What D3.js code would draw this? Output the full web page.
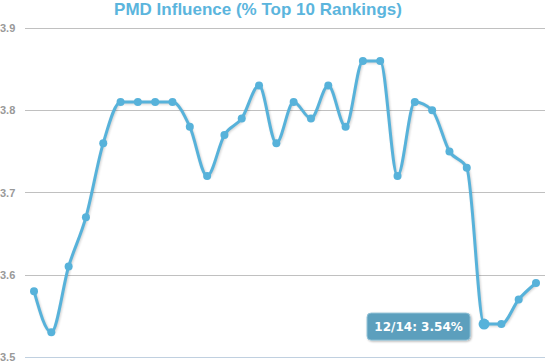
<!DOCTYPE html>
<html>
<head>
<meta charset="utf-8">
<script src="https://d3js.org/d3.v7.min.js"></script>
<style>
  body { margin: 0; background: #fff; }
  text { font-family: "Liberation Sans", Arial, sans-serif; }
</style>
</head>
<body>
<script>
    var width = 553;
    var height = 363;

    var months = ["10/12","11/12","12/12","1/13","2/13","3/13","4/13","5/13","6/13","7/13",
                  "8/13","9/13","10/13","11/13","12/13","1/14","2/14","3/14","4/14","5/14",
                  "6/14","7/14","8/14","9/14","10/14","11/14","12/14","1/15","2/15","3/15"];
    var influence = [3.58, 3.53, 3.61, 3.67, 3.76, 3.81, 3.81, 3.81, 3.81, 3.78,
                     3.72, 3.77, 3.79, 3.83, 3.76, 3.81, 3.79, 3.83, 3.78, 3.86,
                     3.86, 3.72, 3.81, 3.80, 3.75, 3.73, 3.54, 3.54, 3.57, 3.59];
    var yTicks = [3.5, 3.6, 3.7, 3.8, 3.9];
    var highlight = "12/14";

    var data = months.map(function (m, i) { return { month: m, value: influence[i] }; });

    var x = d3.scalePoint().domain(months).range([34, 536]);
    var y = d3.scaleLinear().domain([3.5, 3.9]).range([357, 28]);

    var svg = d3.select("body").append("svg")
        .attr("width", width)
        .attr("height", height);

    var defs = svg.append("defs");
    var blur = defs.append("filter").attr("id", "blur")
        .attr("x", "-10%").attr("y", "-10%").attr("width", "120%").attr("height", "120%");
    blur.append("feGaussianBlur").attr("stdDeviation", 1);
    var shadow = defs.append("filter").attr("id", "shadow")
        .attr("x", "-20%").attr("y", "-30%").attr("width", "140%").attr("height", "170%");
    shadow.append("feDropShadow").attr("dx", 1).attr("dy", 1).attr("stdDeviation", 1.2)
        .attr("flood-color", "#000").attr("flood-opacity", 0.3);

    // title
    svg.append("text")
        .attr("x", 258)
        .attr("y", 15)
        .attr("text-anchor", "middle")
        .style("font-size", "17px")
        .style("font-weight", "bold")
        .style("fill", "#5bb5dd")
        .text("PMD Influence (% Top 10 Rankings)");

    // grid
    svg.selectAll("line.grid")
        .data(yTicks)
        .enter().append("line")
        .attr("class", "grid")
        .attr("x1", 25)
        .attr("x2", 545)
        .attr("y1", function (d) { return Math.round(y(d)) + 0.5; })
        .attr("y2", function (d) { return Math.round(y(d)) + 0.5; })
        .style("stroke", function (d) { return d === 3.5 ? "#c0d0e0" : "#c0c0c0"; })
        .style("stroke-width", 1);

    svg.selectAll("text.ytick")
        .data(yTicks)
        .enter().append("text")
        .attr("class", "ytick")
        .attr("x", 0)
        .attr("y", function (d) { return y(d) + 4; })
        .style("font-size", "11px")
        .style("font-weight", "bold")
        .style("fill", "#999")
        .text(function (d) { return d.toFixed(1); });

    var line = d3.line()
        .x(function (d) { return x(d.month); })
        .y(function (d) { return y(d.value); })
        .curve(d3.curveMonotoneX);

    // shadow under the line
    svg.append("path")
        .datum(data)
        .attr("d", line)
        .attr("transform", "translate(1,1)")
        .attr("filter", "url(#blur)")
        .style("fill", "none")
        .style("stroke", "rgba(0,0,0,0.18)")
        .style("stroke-width", 3);

    svg.append("path")
        .datum(data)
        .attr("d", line)
        .style("fill", "none")
        .style("stroke", "#57b2da")
        .style("stroke-width", 3);

    svg.selectAll("circle.point")
        .data(data)
        .enter().append("circle")
        .attr("class", "point")
        .attr("cx", function (d) { return x(d.month); })
        .attr("cy", function (d) { return y(d.value); })
        .attr("r", function (d) { return d.month === highlight ? 5.5 : 4; })
        .style("fill", "#57b2da");

    // tooltip
    var hp = data.filter(function (d) { return d.month === highlight; })[0];
    var tip = svg.append("g")
        .attr("transform", "translate(" + (x(hp.month) - 117) + "," + (y(hp.value) - 11) + ")");
    tip.append("rect")
        .attr("width", 103)
        .attr("height", 27)
        .attr("rx", 4)
        .attr("filter", "url(#shadow)")
        .style("fill", "#5b9fbd")
        .style("stroke", "#8fc0d6")
        .style("stroke-width", 1);
    tip.append("text")
        .attr("x", 51.5)
        .attr("y", 18)
        .attr("text-anchor", "middle")
        .style("font-weight", "bold")
        .style("fill", "#fff")
        .style("font-family", "'DejaVu Sans', sans-serif")
        .style("font-size", "12px")
        .text(hp.month + ": " + hp.value.toFixed(2) + "%");
</script>
</body>
</html>
